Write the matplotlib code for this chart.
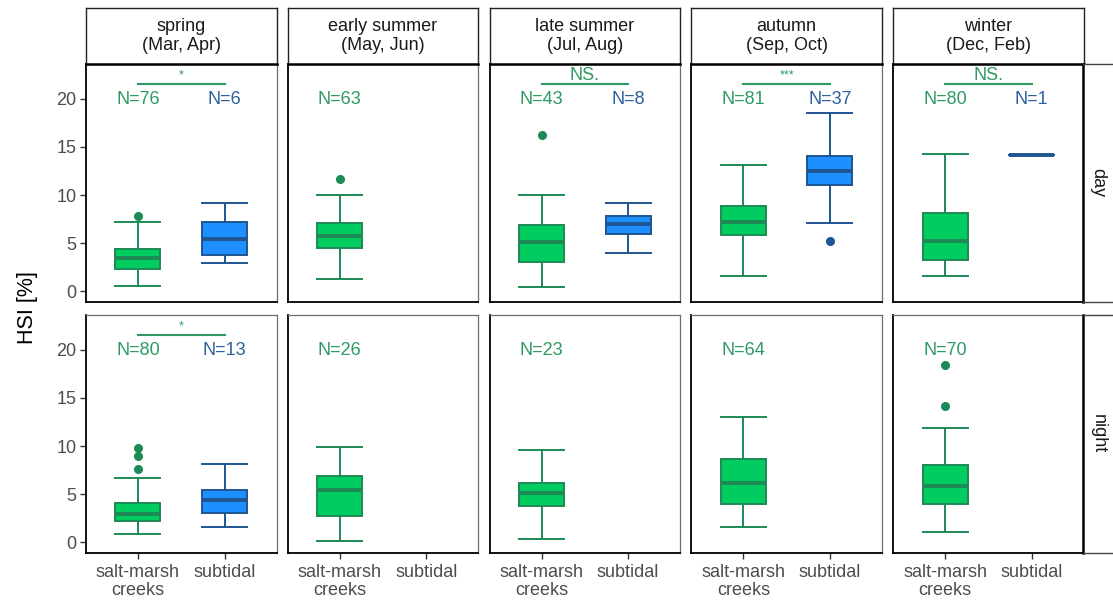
import matplotlib
matplotlib.use("Agg")
import matplotlib.pyplot as plt

plt.rcParams["font.family"] = ["Liberation Sans", "DejaVu Sans"]

# ---- data -------------------------------------------------------------
seasons = ["spring", "early summer", "late summer", "autumn", "winter"]
season_months = ["(Mar, Apr)", "(May, Jun)", "(Jul, Aug)", "(Sep, Oct)", "(Dec, Feb)"]
habitats = ["salt-marsh\ncreeks", "subtidal"]
times = ["day", "night"]
yticks = [0, 5, 10, 15, 20]

# five-number summaries: (lower whisker, Q1, median, Q3, upper whisker)
day_creek_stats = [(0.6, 2.3, 3.45, 4.4, 7.25),
                   (1.25, 4.5, 5.8, 7.1, 10.05),
                   (0.45, 3.05, 5.1, 6.85, 10.0),
                   (1.55, 5.85, 7.2, 8.9, 13.1),
                   (1.65, 3.3, 5.2, 8.15, 14.3)]
day_creek_fliers = [[7.8], [11.7], [16.25], [], []]
day_sub_stats = [(2.95, 3.75, 5.4, 7.2, 9.2),
                 None,
                 (4.0, 5.95, 7.0, 7.8, 9.15),
                 (7.1, 11.05, 12.5, 14.1, 18.5),
                 (14.2, 14.2, 14.2, 14.2, 14.2)]
day_sub_fliers = [[], [], [], [5.2], []]

night_creek_stats = [(0.9, 2.2, 2.9, 4.05, 6.7),
                     (0.15, 2.7, 5.4, 6.85, 9.9),
                     (0.4, 3.75, 5.1, 6.2, 9.55),
                     (1.6, 4.0, 6.2, 8.65, 13.0),
                     (1.05, 4.0, 5.85, 8.0, 11.9)]
night_creek_fliers = [[7.6, 9.0, 9.75], [], [], [], [14.15, 18.45]]
night_sub_stats = [(1.65, 3.05, 4.35, 5.4, 8.1), None, None, None, None]
night_sub_fliers = [[], [], [], [], []]

# sample sizes
day_n_creek = [76, 63, 43, 81, 80]
day_n_sub = [6, None, 8, 37, 1]
night_n_creek = [80, 26, 23, 64, 70]
night_n_sub = [13, None, None, None, None]

# significance of creek vs. subtidal comparison
day_sig = ["*", None, "NS.", "***", "NS."]
night_sig = ["*", None, None, None, None]

# ---- styling ----------------------------------------------------------
W, H = 1113, 604
GREEN_FILL, GREEN_EDGE, GREEN_TXT = "#00cc5f", "#1d8a55", "#2e9a62"
BLUE_FILL, BLUE_EDGE, BLUE_TXT = "#1e8fff", "#1f5592", "#2c5f9c"
GREY_TXT = "#4d4d4d"
FS = 13
BOX_W = 0.52

fig = plt.figure(figsize=(W / 100, H / 100), dpi=100)


def px_axes(x0, y0, x1, y1, **kw):
    return fig.add_axes([x0 / W, 1 - y1 / H, (x1 - x0) / W, (y1 - y0) / H], **kw)


col_left = [86 + i * 201.8 for i in range(5)]
col_w = 190.5
rows = [(64, 302), (315, 553)]
strip_top = (8, 64)

rows_data = [
    (day_creek_stats, day_creek_fliers, day_sub_stats, day_sub_fliers,
     day_n_creek, day_n_sub, day_sig),
    (night_creek_stats, night_creek_fliers, night_sub_stats, night_sub_fliers,
     night_n_creek, night_n_sub, night_sig),
]


def draw_box(ax, stats, fliers, pos, fill, edge):
    lo, q1, med, q3, hi = stats
    d = dict(whislo=lo, q1=q1, med=med, q3=q3, whishi=hi, fliers=fliers)
    ax.bxp([d], positions=[pos], widths=BOX_W, capwidths=[BOX_W],
           patch_artist=True, showfliers=True,
           boxprops=dict(facecolor=fill, edgecolor=edge, linewidth=1.4),
           medianprops=dict(color=edge, linewidth=2.8),
           whiskerprops=dict(color=edge, linewidth=1.4),
           capprops=dict(color=edge, linewidth=1.4),
           flierprops=dict(marker="o", markerfacecolor=edge,
                           markeredgecolor=edge, markersize=5.5))


for r, (y0, y1) in enumerate(rows):
    cs, cf, ss, sf, nc, ns, sig = rows_data[r]
    for c in range(5):
        x0 = col_left[c]
        ax = px_axes(x0, y0, x0 + col_w, y1)
        ax.set_xlim(0.4, 2.6)
        ax.set_ylim(-1.1, 23.6)
        draw_box(ax, cs[c], cf[c], 1, GREEN_FILL, GREEN_EDGE)
        if ss[c] is not None:
            draw_box(ax, ss[c], sf[c], 2, BLUE_FILL, BLUE_EDGE)
        ax.text(1, 19.9, f"N={nc[c]}", color=GREEN_TXT, fontsize=FS,
                ha="center", va="center")
        if ns[c] is not None:
            ax.text(2, 19.9, f"N={ns[c]}", color=BLUE_TXT, fontsize=FS,
                    ha="center", va="center")
        if sig[c] is not None:
            ax.plot([1, 2], [21.5, 21.5], color=GREEN_TXT, linewidth=1.5)
            if sig[c] == "NS.":
                ax.text(1.5, 21.55, sig[c], color=GREEN_TXT, fontsize=FS,
                        ha="center", va="bottom")
            else:
                ax.text(1.5, 21.8, sig[c], color=GREEN_TXT, fontsize=9,
                        ha="center", va="bottom")

        for s in ("top", "right"):
            ax.spines[s].set_color("#6e6e6e")
            ax.spines[s].set_linewidth(0.9)
        for s in ("left", "bottom"):
            ax.spines[s].set_color("black")
            ax.spines[s].set_linewidth(1.3)

        ax.set_xticks([1, 2])
        ax.set_yticks(yticks)
        ax.tick_params(length=4, width=1.0, color="#333333",
                       labelcolor=GREY_TXT, labelsize=FS, pad=3)
        if c == 0:
            ax.set_yticklabels([str(v) for v in yticks])
        else:
            ax.tick_params(axis="y", length=0, labelleft=False)
        if r == 1:
            ax.set_xticklabels(habitats, linespacing=1.1)
            ax.tick_params(axis="x", pad=4)
        else:
            ax.tick_params(axis="x", length=0, labelbottom=False)

        # top strips
        if r == 0:
            sax = px_axes(x0, strip_top[0], x0 + col_w, strip_top[1])
            sax.set_xticks([])
            sax.set_yticks([])
            for s in sax.spines.values():
                s.set_color("#222222")
                s.set_linewidth(1.0)
            sax.spines["bottom"].set_linewidth(1.8)
            sax.spines["bottom"].set_color("black")
            sax.text(0.5, 0.5, f"{seasons[c]}\n{season_months[c]}",
                     ha="center", va="center", fontsize=FS, color="#1a1a1a",
                     linespacing=1.15, transform=sax.transAxes)

    # right strip (runs past the figure edge)
    rax = px_axes(1083, y0, 1140, y1)
    rax.set_xticks([])
    rax.set_yticks([])
    for s in rax.spines.values():
        s.set_color("#444444")
        s.set_linewidth(1.0)
    rax.spines["left"].set_color("black")
    rax.spines["left"].set_linewidth(1.8)
    rax.text(15 / 57, 0.5, times[r], rotation=-90, ha="center", va="center",
             fontsize=FS, color="#1a1a1a", transform=rax.transAxes)

fig.text(28 / W, 1 - 308 / H, "HSI [%]", rotation=90, ha="center",
         va="center", fontsize=15.5, color="black")

fig.savefig("out.png", dpi=100)
